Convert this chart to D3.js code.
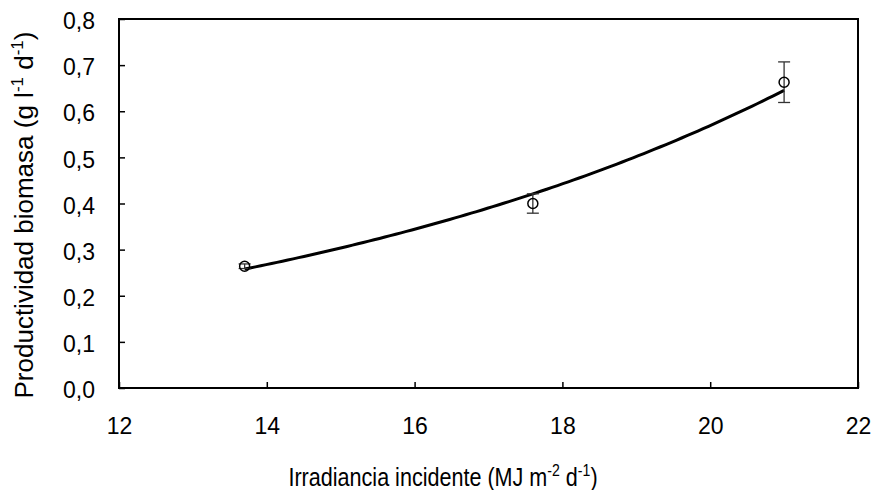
<!DOCTYPE html>
<html>
<head>
<meta charset="utf-8">
<script src="https://cdn.jsdelivr.net/npm/d3@7"></script>
<style>
  body { margin: 0; background: #fff; }
  svg text { font-family: "Liberation Sans", Arial, sans-serif; fill: #000; }
</style>
</head>
<body>
<svg id="chart" width="873" height="490"></svg>
<script>
// Measured biomass productivity against incident irradiance
const irradiance = [13.7, 17.6, 21.0];
const productivity = [0.264, 0.400, 0.663];
const errors = [0.005, 0.021, 0.044];
const xTicks = [12, 14, 16, 18, 20, 22];
const yTicks = [0, 0.1, 0.2, 0.3, 0.4, 0.5, 0.6, 0.7, 0.8];

const svg = d3.select("#chart");
const margin = { left: 119, right: 15, top: 19, bottom: 102 };
const W = 873, H = 490;

const x = d3.scaleLinear().domain([12, 22]).range([margin.left, W - margin.right]);
const y = d3.scaleLinear().domain([0, 0.8]).range([H - margin.bottom, margin.top]);

const fmt = d => d3.format(".1f")(d).replace(".", ",");

// Inward ticks on left and bottom axes
const yAxis = d3.axisLeft(y).tickValues(yTicks).tickSizeInner(-6).tickSizeOuter(0).tickFormat(fmt).tickPadding(24);
const xAxis = d3.axisBottom(x).tickValues(xTicks).tickSizeInner(-6).tickSizeOuter(0).tickPadding(30);

const gy = svg.append("g").attr("transform", `translate(${margin.left},0)`).call(yAxis);
const gx = svg.append("g").attr("transform", `translate(0,${H - margin.bottom})`).call(xAxis);
[gx, gy].forEach(g => {
  g.select(".domain").remove();
  g.selectAll(".tick line").attr("stroke", "#000").attr("stroke-width", 1.5);
  g.selectAll(".tick text").style("font-size", "23px").attr("fill", "#000");
});
gy.selectAll(".tick text").attr("dy", "0.42em");

// Frame around plot area
svg.append("rect")
  .attr("x", x(12)).attr("y", y(0.8))
  .attr("width", x(22) - x(12)).attr("height", y(0) - y(0.8))
  .attr("fill", "none").attr("stroke", "#000").attr("stroke-width", 2);

// Exponential trendline: least squares on ln(y)
const lnY = productivity.map(Math.log);
const mx = d3.mean(irradiance), my = d3.mean(lnY);
const b = d3.sum(irradiance, (v, i) => (v - mx) * (lnY[i] - my)) / d3.sum(irradiance, v => (v - mx) ** 2);
const a = Math.exp(my - b * mx);
const xs = d3.range(0, 101).map(i => irradiance[0] + (irradiance[2] - irradiance[0]) * i / 100);
svg.append("path")
  .datum(xs)
  .attr("fill", "none").attr("stroke", "#000").attr("stroke-width", 3)
  .attr("d", d3.line().x(d => x(d)).y(d => y(a * Math.exp(b * d))));

// Error bars
const pts = irradiance.map((v, i) => ({ x: v, y: productivity[i], e: errors[i] }));
const eb = svg.append("g").attr("stroke", "#333").attr("stroke-width", 1.3);
pts.forEach(p => {
  eb.append("line").attr("x1", x(p.x)).attr("x2", x(p.x)).attr("y1", y(p.y - p.e)).attr("y2", y(p.y + p.e));
  [p.y - p.e, p.y + p.e].forEach(v =>
    eb.append("line").attr("x1", x(p.x) - 6).attr("x2", x(p.x) + 6).attr("y1", y(v)).attr("y2", y(v)));
});

// Open circle markers
svg.append("g").selectAll("circle").data(pts).join("circle")
  .attr("cx", d => x(d.x)).attr("cy", d => y(d.y)).attr("r", 5)
  .attr("fill", "none").attr("stroke", "#000").attr("stroke-width", 1.5);

// Axis titles
const xt = svg.append("text").attr("transform", "translate(443,486) scale(0.83,1)")
  .attr("text-anchor", "middle").style("font-size", "26px");
xt.append("tspan").text("Irradiancia incidente (MJ m");
xt.append("tspan").text("-2").attr("dy", -10).style("font-size", "17px");
xt.append("tspan").text(" d").attr("dy", 10);
xt.append("tspan").text("-1").attr("dy", -10).style("font-size", "17px");
xt.append("tspan").text(")").attr("dy", 10);

const yt = svg.append("text").attr("transform", "translate(33,215) rotate(-90)").attr("text-anchor", "middle").style("font-size", "26px");
yt.append("tspan").text("Productividad biomasa (g l");
yt.append("tspan").text("-1").attr("dy", -10).style("font-size", "17px");
yt.append("tspan").text(" d").attr("dy", 10);
yt.append("tspan").text("-1").attr("dy", -10).style("font-size", "17px");
yt.append("tspan").text(")").attr("dy", 10);
</script>
</body>
</html>
